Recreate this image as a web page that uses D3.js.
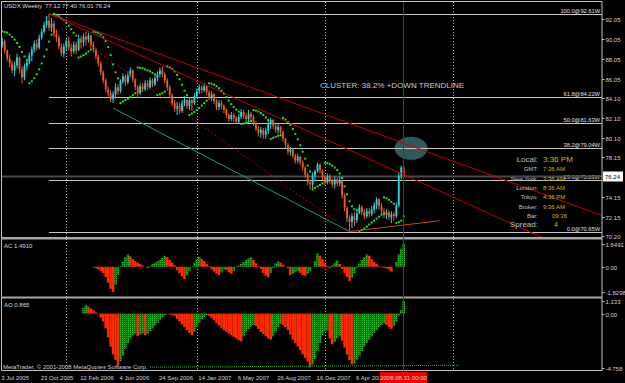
<!DOCTYPE html>
<meta charset="utf-8">
<style>
body { margin: 0; background: #000; }
svg { display: block; }
text { font-family: "Liberation Sans", Arial, sans-serif; }
</style>
<svg id="chart" width="625" height="383"></svg>
<script src="https://d3js.org/d3.v7.min.js"></script>
<script>

// weekly bars, one per week from firstBar
var firstBar = "2005-07-10";
var open0 = 90.0;
var closes = [89.5,89.8,88.9,88.1,87.6,86.9,87.4,88.2,87.0,86.2,
  87.3,87.7,88.4,89.0,89.6,89.2,90.2,90.8,91.5,91.9,
  91.2,91.6,90.6,90.2,89.3,88.6,89.3,89.9,89.2,88.8,
  89.5,88.9,90.1,89.7,90.3,90.0,90.4,89.5,89.0,88.3,
  87.6,86.7,85.9,85.0,84.6,84.0,84.5,85.2,84.8,85.8,
  86.3,85.7,86.4,86.9,86.0,85.2,84.6,85.3,85.0,85.6,
  85.2,85.9,85.5,86.1,86.5,86.9,86.5,85.9,85.2,84.4,
  83.6,83.0,83.3,82.8,83.6,83.9,83.3,83.9,83.6,84.3,
  84.8,85.2,84.9,85.3,84.7,84.2,84.5,83.8,83.2,83.6,
  83.3,82.9,82.4,82.0,82.4,82.1,81.7,82.2,82.7,82.3,
  82.0,82.5,82.2,81.6,81.0,80.6,80.9,80.4,80.8,81.5,
  81.9,81.3,80.9,81.2,80.7,80.0,79.4,78.7,78.9,78.3,
  77.8,78.2,77.6,77.1,76.4,75.6,75.4,76.3,76.7,77.4,
  76.8,76.1,75.6,76.2,75.8,75.4,75.9,75.5,75.8,74.3,
  73.0,72.0,71.6,72.2,71.8,72.5,73.1,72.6,72.2,72.7,
  72.4,72.9,73.3,73.9,73.2,72.7,72.3,72.6,72.1,72.4,
  72.2,73.3,76.3,77.12,76.24];
var highs = [90.5,90.2,90.0,89.0,88.5,87.9,87.8,88.6,88.3,87.3,
  87.6,87.85,88.7,89.3,89.9,90.0,90.5,91.1,91.8,92.4,
  92.61,92.2,91.9,91.0,90.5,89.6,89.6,90.2,90.3,89.6,
  89.8,89.8,90.5,90.4,90.6,90.8,90.7,90.5,89.8,89.2,
  88.5,87.8,86.9,86.1,85.3,84.9,84.8,85.6,85.5,86.0,
  86.6,86.5,86.8,87.2,87.0,86.1,85.4,85.6,85.6,85.9,
  85.9,86.2,86.1,86.4,86.8,87.2,87.3,86.7,86.1,85.4,
  84.6,83.9,83.7,83.6,83.9,84.3,84.0,84.2,84.1,84.6,
  85.1,85.5,85.4,85.6,85.4,84.9,84.8,84.6,84.0,83.9,
  83.9,83.5,83.1,82.6,82.7,82.6,82.3,82.5,83.0,82.9,
  82.6,82.9,82.7,82.4,81.8,81.3,81.2,81.1,81.1,81.8,
  82.1,82.0,81.5,81.5,81.3,80.8,80.1,79.6,79.2,79.0,
  78.5,78.5,78.3,77.8,77.2,76.6,75.9,76.6,76.9,77.6,
  77.5,76.9,76.3,76.5,76.4,76.0,76.2,76.1,76.2,75.9,
  74.5,73.2,72.3,72.5,72.6,72.7,73.4,73.3,72.9,73.0,
  73.0,73.2,73.6,74.1,74.0,73.5,73.0,72.9,72.8,72.7,
  72.6,73.6,76.6,77.3,77.40];
var lows = [89.3,89.2,88.6,87.8,87.2,86.6,86.3,87.1,86.6,85.6,
  85.9,86.9,87.5,87.8,88.7,88.9,89.0,90.0,90.6,91.2,
  90.9,90.8,90.3,89.8,89.0,88.3,88.2,88.9,88.9,88.3,
  88.6,88.5,88.9,89.1,89.3,89.4,89.7,89.2,88.7,88.0,
  87.3,86.4,85.6,84.7,84.3,83.7,83.6,84.1,84.4,84.6,
  85.5,85.3,85.5,86.2,85.7,84.9,84.1,84.4,84.7,84.8,
  84.9,85.0,85.2,85.3,85.8,86.2,86.2,85.6,84.85,84.1,
  83.3,82.7,82.4,82.5,82.6,83.3,83.0,82.9,82.8,83.4,
  84.1,84.5,84.6,84.7,84.4,83.9,83.8,83.5,82.9,82.9,
  83.0,82.6,82.1,81.7,81.8,81.7,81.5,81.6,82.0,82.0,
  81.7,81.8,81.9,81.3,80.8,80.3,80.1,80.0,80.0,80.5,
  81.0,81.0,80.6,80.5,80.4,79.7,79.1,78.4,78.3,78.0,
  77.5,77.5,77.3,76.8,76.1,75.3,74.9,75.0,75.7,76.6,
  76.5,75.8,75.3,75.4,75.5,75.1,75.0,75.2,75.2,74.0,
  72.7,71.6,70.65,71.0,71.2,71.5,72.4,72.3,71.9,72.0,
  72.1,72.2,72.5,72.9,72.9,72.4,72.0,71.9,71.8,71.5,
  71.7,72.0,73.1,75.9,76.01];

// parabolic SAR, one per bar
var sar = [90.84,90.84,90.77,90.71,90.51,90.27,90.0,89.67,89.27,88.76,88.3,87.95,
  85.6,85.8,86.1,86.5,87.0,87.6,88.3,89.0,89.8,90.5,
  92.61,92.5,92.35,92.15,91.95,91.7,91.4,91.05,90.7,90.4,
  88.2,88.3,88.45,88.6,88.8,89.0,
  90.8,90.75,90.65,90.5,90.25,89.85,89.25,88.45,87.5,86.7,86.1,
  83.6,83.75,83.9,84.05,84.2,84.4,84.6,
  87.2,87.15,87.1,87.0,86.9,86.8,86.65,86.5,
  84.4,84.5,84.6,84.75,
  87.3,87.2,87.05,86.8,86.45,86.0,85.45,84.85,84.4,
  82.4,82.55,82.7,82.9,83.1,83.35,83.6,83.85,
  85.6,85.55,85.45,85.3,85.1,84.85,84.55,84.2,83.85,83.5,83.2,82.95,82.75,
  81.5,81.55,81.6,81.7,81.8,
  82.9,82.85,82.75,82.6,82.4,82.15,81.9,
  80.0,80.1,80.2,80.3,80.35,
  82.1,81.95,81.7,81.4,81.0,80.5,79.95,79.35,78.7,78.0,77.3,76.7,
  74.9,75.05,75.2,75.35,75.5,
  77.6,77.55,77.45,77.3,77.1,76.85,76.5,76.05,75.2,74.4,73.7,73.2,72.9,72.8,
  70.65,70.8,70.95,71.15,71.35,71.55,71.75,71.95,72.15,72.35,
  74.1,74.0,73.85,73.65,73.45,
  71.5,71.6,71.75,72.2];

// Awesome oscillator from bar 34, Accelerator from bar 38
var aoStart = 34;
var ao = [0.55,0.78,0.62,0.45,0.3,0.12,
  -0.05,-0.35,-0.7,-1.3,-2.1,-2.9,-3.6,-4.1,-4.6,-4.2,
  -3.7,-3.1,-2.6,-2.2,-1.95,-1.8,-2.0,-1.85,-1.75,-1.9,
  -1.8,-1.55,-1.3,-1.05,-0.8,-0.55,-0.35,-0.15,-0.05,-0.08,
  -0.12,-0.2,-0.45,-0.7,-0.95,-1.2,-1.45,-1.7,-1.88,-1.6,
  -1.2,-0.8,-0.5,-0.3,-0.15,-0.2,-0.4,-0.6,-0.85,-1.05,
  -1.25,-1.45,-1.6,-1.75,-1.9,-2.05,-2.2,-2.35,-2.45,-2.0,
  -1.6,-1.35,-1.15,-1.0,-1.1,-1.35,-1.6,-1.8,-2.0,-2.2,
  -2.3,-2.0,-1.6,-1.2,-0.9,-1.0,-1.2,-1.45,-1.85,-2.3,
  -2.6,-2.9,-3.25,-3.6,-3.9,-4.25,-4.758,-4.5,-4.0,-3.3,
  -2.6,-1.9,-1.6,-1.5,-2.2,-2.7,-2.5,-2.2,-2.0,-2.4,
  -3.0,-3.6,-4.1,-4.5,-4.4,-4.1,-3.7,-3.3,-2.9,-2.6,
  -2.3,-2.0,-1.7,-1.45,-1.2,-1.0,-0.85,-1.0,-1.2,-1.35,
  -1.1,-0.7,-0.2,0.3,1.133];
var acStart = 38;
var ac = [-0.05,-0.1,
  -0.2,-0.3,-0.45,-0.75,-1.15,-1.6,-1.8298,-1.3,-0.6,0.05,
  0.35,0.7,0.9,0.75,0.55,0.4,0.3,0.2,0.1,0.0,
  -0.1,0.05,0.2,0.3,0.4,0.5,0.65,0.8,0.7,0.5,
  0.3,0.1,-0.25,-0.45,-0.7,-0.9,-0.6,-0.3,-0.05,0.3,
  0.55,0.72,0.55,0.4,0.2,0.05,-0.2,-0.35,-0.5,-0.6,
  -0.4,-0.15,-0.25,-0.4,-0.5,-0.3,-0.05,0.1,0.2,0.35,
  0.5,0.6,0.7,0.5,0.25,0.05,-0.15,-0.45,-0.65,-0.75,
  -0.45,-0.1,0.25,0.4,0.3,0.15,0.0,-0.1,-0.6,-0.5,
  -0.4,-0.3,-0.45,-0.6,-0.65,-0.5,-0.3,0.0,0.4,0.98,
  0.8,0.55,0.3,0.05,-0.1,0.1,0.3,0.45,0.2,-0.15,
  -0.45,-0.75,-1.05,-0.8,-0.45,-0.1,0.25,0.5,0.7,0.9,
  0.8,0.55,0.35,0.2,0.05,-0.05,-0.1,-0.12,-0.2,-0.35,
  0.0,0.35,0.9,1.3,1.6491];

// axis labels
var priceTicks = ["92.05","90.05","88.05","86.05","84.10","82.10","80.10","78.15","74.15","72.15","70.20"];
var lastPrice = "76.24";
var acTicks = ["1.6491","0.00","-1.8298"];
var aoTicks = ["1.133","0.00","-4.758"];
var timeTicks = ["2005-07-03","2005-10-23","2006-02-12","2006-06-04","2006-09-24","2007-01-14","2007-05-06","2007-08-26","2007-12-16","2008-04-06"];
var separators = ["2006-01-15","2007-01-21","2008-01-20","2009-01-18"];

// fibonacci levels
var fibStart = "2005-11-27";
var fibLevels = ["100.0","61.8","50.0","38.2","23.6","0.0"];
var fibPrices = [92.61,84.22,81.63,79.04,75.83,70.65];

// objects on the chart [date, price]
var downLine1 = [["2005-11-27",92.61],["2008-08-31",79.56]];
var downLine2 = [["2005-11-27",92.61],["2008-08-31",76.38]];
var dottedLine = [["2006-01-11",91.17],["2008-04-01",70.65]];
var channelLine = [["2006-05-28",83.1],["2008-03-30",70.65]];
var supportLine = [["2008-03-30",70.65],["2008-12-11",71.74]];
var clusterSpot = ["2008-09-21",79.04];
var aoLine = [["2006-09-10",-4.73],["2009-02-05",-4.56]];

var titleText = "USDX,Weekly  77.12 77.40 76.01 76.24";
var acTitle = "AC 1.4910", aoTitle = "AO 0.865";
var clusterText = "CLUSTER: 38.2% +DOWN TRENDLINE";
var clockLabels = ["Local:","GMT:","New York:","London:","Tokyo:","Broker:","Bar:","Spread:"];
var clockValues = ["3:36 PM","7:36 AM","3:36 AM","8:36 AM","4:36 PM","9:36 AM","09:36","4"];
var vlineLabel = "2008.08.31 00:00";

var parse = d3.timeParse("%Y-%m-%d");
var t0 = parse(firstBar);
var bars = closes.map(function(c, i) {
  return {date: d3.timeWeek.offset(t0, i), open: i ? closes[i - 1] : open0,
          high: highs[i], low: lows[i], close: c, sar: sar[i]};
});
var last = bars[bars.length - 1];

var svg = d3.select("#chart");
var x = d3.scaleTime().domain([bars[0].date, last.date]).range([-0.2, 403.7]);
var y = d3.scaleLinear().domain([70.20, 92.05]).range([236, 19.3]);
var yAC = d3.scaleLinear().domain([-1.8298, 1.6491]).range([292, 244]);
var yAO = d3.scaleLinear().domain([-4.758, 1.133]).range([367.5, 300.8]);

var grey = "#c0c0c0", bull = "#22d6e6", bear = "#f25c1d";
var vx = Math.round(x(last.date)) - 0.5;

svg.append("rect").attr("width", 625).attr("height", 383).attr("fill", "#000");

var defs = svg.append("defs");
defs.append("clipPath").attr("id", "clipMain").append("rect")
    .attr("x", 2).attr("y", 2).attr("width", 600).attr("height", 235);
defs.append("clipPath").attr("id", "clipAll").append("rect")
    .attr("x", 2).attr("y", 2).attr("width", 600).attr("height", 368);
defs.append("clipPath").attr("id", "clipTime").append("rect")
    .attr("x", 0).attr("y", 371).attr("width", vx - 24).attr("height", 12);
var pat = defs.append("pattern").attr("id", "gdots").attr("width", 2).attr("height", 2)
    .attr("patternUnits", "userSpaceOnUse");
pat.append("rect").attr("width", 2).attr("height", 2).attr("fill", "#0a7a0a");
pat.append("rect").attr("width", 1).attr("height", 1).attr("fill", "#34c034");

var all = svg.append("g").attr("clip-path", "url(#clipAll)");
var main = svg.append("g").attr("clip-path", "url(#clipMain)");

// period separators
all.selectAll(".sep").data(separators).enter().append("line")
    .attr("x1", function(d) { return Math.round(x(parse(d))) + 0.5; })
    .attr("x2", function(d) { return Math.round(x(parse(d))) + 0.5; })
    .attr("y1", 2).attr("y2", 370)
    .attr("stroke", "#b0b0b0").attr("stroke-dasharray", "1,2");

// cluster ellipse
main.append("ellipse")
    .attr("cx", x(parse(clusterSpot[0]))).attr("cy", y(clusterSpot[1]))
    .attr("rx", 16.5).attr("ry", 11.5).attr("fill", "#31595b");

// fibo lines
var fx = Math.round(x(parse(fibStart)));
fibPrices.forEach(function(p, i) {
  var yy = Math.round(y(p)) + 0.5;
  main.append("line").attr("x1", fx).attr("x2", 602).attr("y1", yy).attr("y2", yy)
      .attr("stroke", "#c8c8c8");
  main.append("text").attr("x", 600).attr("y", yy - 1.5).attr("text-anchor", "end")
      .attr("font-size", "5.7px").attr("fill", "#e0e0e0")
      .text(fibLevels[i] + "@" + p.toFixed(2) + "W");
});

// bid line
var by = Math.round(y(+lastPrice)) + 0.5;
main.append("line").attr("x1", 2).attr("x2", 602).attr("y1", by).attr("y2", by)
    .attr("stroke", "#4a4a4a").attr("stroke-width", 2);

// candles
var cg = main.append("g");
cg.selectAll(".wick").data(bars).enter().append("line")
    .attr("x1", function(d) { return x(d.date); })
    .attr("x2", function(d) { return x(d.date); })
    .attr("y1", function(d) { return y(d.high); })
    .attr("y2", function(d) { return y(d.low); })
    .attr("stroke", function(d) { return d.close >= d.open ? bull : bear; });
cg.selectAll(".body").data(bars).enter().append("rect")
    .attr("x", function(d) { return x(d.date) - 0.9; })
    .attr("width", 1.8)
    .attr("y", function(d) { return y(Math.max(d.open, d.close)); })
    .attr("height", function(d) { return Math.max(1, Math.abs(y(d.open) - y(d.close))); })
    .attr("fill", function(d) { return d.close >= d.open ? bull : bear; });

// SAR
main.selectAll(".sar").data(bars).enter().append("rect")
    .attr("x", function(d) { return x(d.date) - 1; })
    .attr("y", function(d) { return y(d.sar) - 1; })
    .attr("width", 2).attr("height", 2).attr("fill", "#26dc26");

// trendlines
function pts(a) { return a.map(function(p) { return [x(parse(p[0])), y(p[1])]; }); }
function ray(a) {
  var p = pts(a), k = (p[1][1] - p[0][1]) / (p[1][0] - p[0][0]);
  return [p[0], [620, p[0][1] + k * (620 - p[0][0])]];
}
var line = d3.line();
main.append("path").attr("d", line(pts(channelLine))).attr("stroke", "#12a070").attr("fill", "none");
main.append("path").attr("d", line(pts(dottedLine))).attr("stroke", "#b80000")
    .attr("stroke-dasharray", "2,2").attr("fill", "none");
main.append("path").attr("d", line(ray(downLine1))).attr("stroke", "#c80000").attr("fill", "none");
main.append("path").attr("d", line(ray(downLine2))).attr("stroke", "#c80000").attr("fill", "none");
main.append("path").attr("d", line(pts(supportLine))).attr("stroke", "#d0401a").attr("fill", "none");

// texts in main window
svg.append("text").attr("x", 4).attr("y", 8).attr("font-size", "6px").attr("fill", "#d8d8d8")
    .attr("xml:space", "preserve").text(titleText);
svg.append("text").attr("x", 320).attr("y", 88).attr("font-size", "8px").attr("fill", "#c8c8c8")
    .text(clusterText);

var rowsY = [162, 171.2, 180.5, 190, 199.2, 208.5, 218, 227];
clockLabels.forEach(function(l, i) {
  var big = (i === 0 || i === 7);
  svg.append("text").attr("x", 538).attr("y", rowsY[i]).attr("text-anchor", "end")
      .attr("font-size", big ? "8px" : "6px").attr("fill", "#c0c0c0").text(l);
  svg.append("text").attr("x", i === 6 ? 552 : (i === 7 ? 554 : 543)).attr("y", rowsY[i])
      .attr("font-size", i === 0 ? "8px" : (i === 7 ? "7px" : "6px"))
      .attr("fill", "#d8b400").text(clockValues[i]);
});

// AC histogram
var acBars = ac.map(function(v, i) {
  return {date: bars[acStart + i].date, v: v, up: i === 0 || v > ac[i - 1]};
});
all.selectAll(".ac").data(acBars).enter().append("rect")
    .attr("x", function(d) { return x(d.date) - 1.25; })
    .attr("width", 2.5)
    .attr("y", function(d) { return Math.min(yAC(0), yAC(d.v)); })
    .attr("height", function(d) { return Math.abs(yAC(d.v) - yAC(0)); })
    .attr("fill", function(d) { return d.up ? "url(#gdots)" : "#ff2a00"; });

// AO histogram
var aoBars = ao.map(function(v, i) {
  return {date: bars[aoStart + i].date, v: v, up: i === 0 || v > ao[i - 1]};
});
all.selectAll(".ao").data(aoBars).enter().append("rect")
    .attr("x", function(d) { return x(d.date) - 1.25; })
    .attr("width", 2.5)
    .attr("y", function(d) { return Math.min(yAO(0), yAO(d.v)); })
    .attr("height", function(d) { return Math.abs(yAO(d.v) - yAO(0)); })
    .attr("fill", function(d) { return d.up ? "url(#gdots)" : "#ff2a00"; });

all.append("path")
    .attr("d", d3.line()(aoLine.map(function(p) { return [x(parse(p[0])), yAO(p[1])]; })))
    .attr("stroke", "#10b040").attr("stroke-dasharray", "1,1").attr("fill", "none");

svg.append("text").attr("x", 4).attr("y", 247.5).attr("font-size", "6px").attr("fill", "#d8d8d8").text(acTitle);
svg.append("text").attr("x", 4).attr("y", 306.5).attr("font-size", "6px").attr("fill", "#d8d8d8").text(aoTitle);
svg.append("text").attr("x", 3).attr("y", 369).attr("font-size", "6px").attr("fill", "#d0d0d0")
    .text("MetaTrader, \u00a9 2001-2008 MetaQuotes Software Corp.");

// frames and window separators
svg.append("rect").attr("x", 1.5).attr("y", 1.5).attr("width", 600.5).attr("height", 369)
    .attr("fill", "none").attr("stroke", grey);
svg.append("rect").attr("x", 1).attr("y", 237).attr("width", 601).attr("height", 2.5).attr("fill", "#a8a8a8");
svg.append("rect").attr("x", 1).attr("y", 296.5).attr("width", 601).attr("height", 2).attr("fill", "#a8a8a8");

// right axes
function rightAxis(ticks, scale) {
  ticks.forEach(function(t) {
    var yy = Math.round(scale(+t)) + 0.5;
    svg.append("line").attr("x1", 602).attr("x2", 604.5).attr("y1", yy).attr("y2", yy).attr("stroke", grey);
    svg.append("text").attr("x", 605.5).attr("y", yy + 2).attr("font-size", "6px")
        .attr("fill", "#d0d0d0").text(t);
  });
}
rightAxis(priceTicks, y);
rightAxis(acTicks, yAC);
rightAxis(aoTicks, yAO);
svg.append("rect").attr("x", 603).attr("y", by - 5).attr("width", 20).attr("height", 10).attr("fill", "#fff");
svg.append("text").attr("x", 605).attr("y", by + 2).attr("font-size", "6px").attr("fill", "#000").text(lastPrice);

// time axis (the last label runs under the vertical line's date box)
var fmt = d3.timeFormat("%-d %b %Y");
svg.append("g").attr("clip-path", "url(#clipTime)")
  .selectAll(".tt").data(timeTicks).enter().append("text")
    .attr("x", function(d) { return x(parse(d)) + 4; })
    .attr("y", 380).attr("font-size", "6px").attr("fill", "#d0d0d0")
    .text(function(d) { return fmt(parse(d)); });

// vertical line at last bar
svg.append("line").attr("x1", vx).attr("x2", vx).attr("y1", 2).attr("y2", 371)
    .attr("stroke", "#e00000");
svg.append("rect").attr("x", vx - 23.5).attr("y", 372).attr("width", 47).attr("height", 11).attr("fill", "#f00000");
svg.append("text").attr("x", vx).attr("y", 380).attr("text-anchor", "middle")
    .attr("font-size", "6px").attr("fill", "#ffd8d8").text(vlineLabel);

</script>
